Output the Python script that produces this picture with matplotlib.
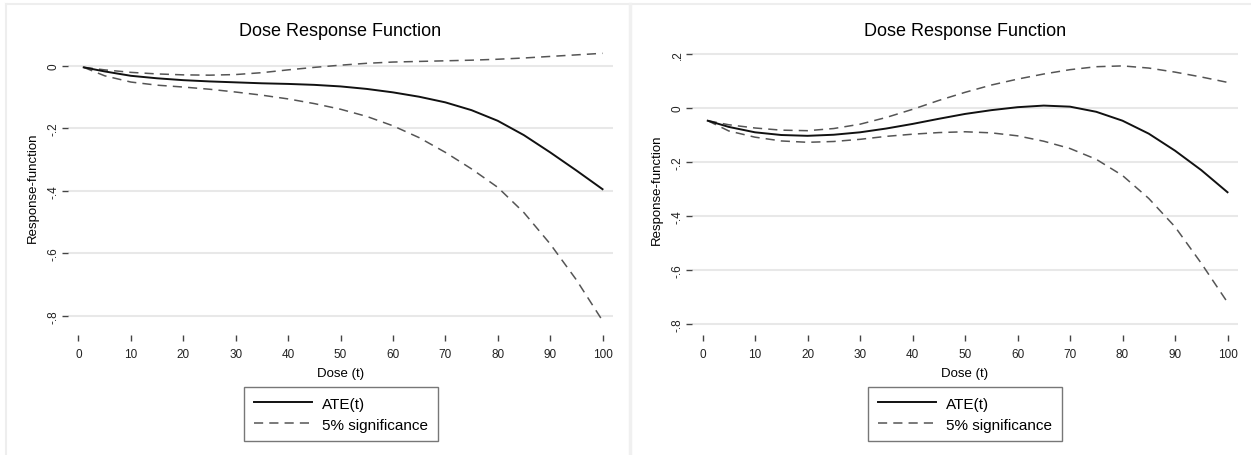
import numpy as np
import matplotlib
matplotlib.use('Agg')
import matplotlib.pyplot as plt
from matplotlib.lines import Line2D

plt.rcParams['font.family'] = ['Liberation Sans', 'DejaVu Sans']

# 剂量点
dose = [1, 5, 10, 15, 20, 25, 30, 35, 40, 45, 50, 55, 60, 65, 70, 75, 80, 85, 90, 95, 100]

# 左图：ATE 及 5% 置信带
left_ate = [-0.005, -0.018, -0.032, -0.040, -0.046, -0.050, -0.053, -0.056, -0.058, -0.061, -0.066,
            -0.074, -0.085, -0.099, -0.117, -0.142, -0.176, -0.222, -0.277, -0.335, -0.395]
left_upper = [-0.005, -0.013, -0.021, -0.026, -0.029, -0.030, -0.028, -0.022, -0.013, -0.005, 0.002,
              0.008, 0.012, 0.014, 0.016, 0.018, 0.021, 0.025, 0.030, 0.035, 0.040]
left_lower = [-0.005, -0.032, -0.052, -0.062, -0.068, -0.075, -0.084, -0.094, -0.106, -0.121, -0.139,
              -0.162, -0.192, -0.230, -0.277, -0.330, -0.389, -0.470, -0.570, -0.685, -0.816]

# 右图
right_ate = [-0.047, -0.070, -0.090, -0.100, -0.103, -0.099, -0.090, -0.076, -0.059, -0.040, -0.022,
             -0.008, 0.003, 0.009, 0.005, -0.014, -0.047, -0.095, -0.158, -0.230, -0.312]
right_upper = [-0.047, -0.062, -0.074, -0.082, -0.084, -0.076, -0.060, -0.035, -0.005, 0.028, 0.058,
               0.085, 0.107, 0.126, 0.142, 0.153, 0.156, 0.148, 0.133, 0.115, 0.095]
right_lower = [-0.047, -0.085, -0.108, -0.122, -0.127, -0.124, -0.116, -0.105, -0.097, -0.091, -0.088,
               -0.092, -0.103, -0.123, -0.150, -0.190, -0.250, -0.335, -0.440, -0.575, -0.720]

x_ticks = [0, 10, 20, 30, 40, 50, 60, 70, 80, 90, 100]
left_yticks = [0, -0.2, -0.4, -0.6, -0.8]
left_ylabels = ['0', '-.2', '-.4', '-.6', '-.8']
right_yticks = [0.2, 0, -0.2, -0.4, -0.6, -0.8]
right_ylabels = ['.2', '0', '-.2', '-.4', '-.6', '-.8']

W, H = 1251, 456
fig = plt.figure(figsize=(W / 100, H / 100), dpi=100)


def px_box(x0, y0, x1, y1):
    return [x0 / W, 1 - y1 / H, (x1 - x0) / W, (y1 - y0) / H]


def draw_panel(rect, ylim, ate, upper, lower, yticks, ylabels, legend_cx):
    ax = fig.add_axes(px_box(*rect))
    ax.plot(dose, upper, color='#555555', lw=1.1, ls=(0, (6, 4)))
    ax.plot(dose, lower, color='#555555', lw=1.1, ls=(0, (6, 4)))
    ax.plot(dose, ate, color='#111111', lw=1.4)
    ax.set_xlim(-2, 102)
    ax.set_ylim(*ylim)
    for s in ax.spines.values():
        s.set_visible(False)
    ax.spines['bottom'].set_position(('outward', 3))
    ax.set_xticks(x_ticks)
    ax.set_yticks(yticks)
    ax.set_yticklabels(ylabels, rotation=90, va='center')
    ax.tick_params(axis='both', length=4, width=1, color='#444444', labelsize=8.5,
                   labelcolor='#222222')
    ax.tick_params(axis='x', pad=5)
    ax.tick_params(axis='y', pad=2)
    ax.grid(axis='y', color='#e8e8e8', lw=1.5)
    ax.set_axisbelow(True)
    ax.set_xlabel('Dose (t)', fontsize=9.5, labelpad=5)
    ax.set_ylabel('Response-function', fontsize=9.5, labelpad=6)
    cx = (rect[0] + rect[2]) / 2
    fig.text(cx / W, 1 - 32 / H, 'Dose Response Function', ha='center', va='center', fontsize=13)
    handles = [Line2D([], [], color='#111111', lw=1.4),
               Line2D([], [], color='#555555', lw=1.1, ls=(0, (6, 4)))]
    leg = ax.legend(handles, ['ATE(t)', '5% significance'], loc='upper center',
                    bbox_to_anchor=(legend_cx / W, 1 - 387.7 / H), bbox_transform=fig.transFigure,
                    fontsize=11, frameon=True, fancybox=False, handlelength=3.8,
                    handletextpad=0.65, labelspacing=0.45, borderpad=0.65, borderaxespad=0)
    leg.get_frame().set_edgecolor('#555555')
    leg.get_frame().set_linewidth(1.0)
    return ax


draw_panel((68, 44, 613, 332), (-0.849, 0.073), left_ate, left_upper, left_lower,
           left_yticks, left_ylabels, 341)
draw_panel((692, 48, 1238, 332), (-0.826, 0.226), right_ate, right_upper, right_lower,
           right_yticks, right_ylabels, 965)

# 面板边框
border = '#eeeeee'
fig.add_artist(Line2D([6 / W, 1], [1 - 5 / H, 1 - 5 / H], color=border, lw=1.5))
fig.add_artist(Line2D([6 / W, 6 / W], [0, 1 - 5 / H], color=border, lw=1.5))
fig.add_artist(Line2D([630 / W, 630 / W], [0, 1 - 5 / H], color='#f0f0f0', lw=2.5))

fig.savefig('out.png', dpi=100)
